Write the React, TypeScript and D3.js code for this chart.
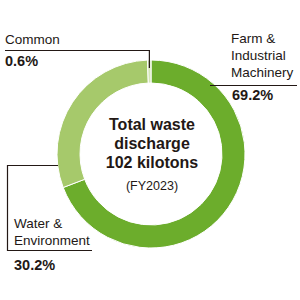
import React from "react";
import * as d3 from "d3";

const categories = ["Farm & Industrial Machinery", "Water & Environment", "Common"];
const values = [69.2, 30.2, 0.6];
const colors = ["#6cad2c", "#a6c96b", "#d4e6b8"];
const centerLines = ["Total waste", "discharge", "102 kilotons"];
const centerSub = "(FY2023)";

export default function App() {
  const W = 300, H = 300;
  const cx = 151, cy = 154, R = 94, r = 71;
  const pie = d3.pie<number>().sort(null).value((d) => d);
  const arcs = pie(values);
  const arc = d3.arc<d3.PieArcDatum<number>>().innerRadius(r).outerRadius(R);
  const txt = "#231815";
  const font = "'Liberation Sans', Arial, sans-serif";
  const cMid = (arcs[2].startAngle + arcs[2].endAngle) / 2;
  const cX = cx + Math.sin(cMid) * (R - 8);
  const cY = cy - Math.cos(cMid) * (R - 8);
  return (
    <svg width={W} height={H} style={{ position: "absolute", left: 0, top: 0 }} fontFamily={font}>
      <g transform={`translate(${cx},${cy})`}>
        {arcs.map((a, i) => (
          <path key={i} d={arc(a) || ""} fill={colors[i]} stroke="#fff" strokeWidth={1} />
        ))}
      </g>
      <polyline points={`5,50.5 ${cX},50.5 ${cX},${cY}`} fill="none" stroke={txt} strokeWidth={1.2} />
      <text x={5} y={44} fontSize={13.5} fill={txt}>Common</text>
      <text x={5} y={66} fontSize={14.5} fontWeight="bold" fill={txt}>0.6%</text>
      <line x1={210} x2={297} y1={85.5} y2={85.5} stroke={txt} strokeWidth={1.2} />
      <text x={231} y={43} fontSize={13.5} fill={txt}>Farm &amp;</text>
      <text x={231} y={60} fontSize={13.5} fill={txt}>Industrial</text>
      <text x={231} y={77} fontSize={13.5} fill={txt}>Machinery</text>
      <text x={232} y={100} fontSize={14.5} fontWeight="bold" fill={txt}>69.2%</text>
      <polyline points={`58,165.5 7.5,165.5 7.5,250.5 92,250.5`} fill="none" stroke={txt} strokeWidth={1.2} />
      <text x={14} y={228} fontSize={13.5} fill={txt}>Water &amp;</text>
      <text x={14} y={245} fontSize={13.5} fill={txt}>Environment</text>
      <text x={14} y={270} fontSize={14.5} fontWeight="bold" fill={txt}>30.2%</text>
      {centerLines.map((t, i) => (
        <text key={i} x={152} y={130 + i * 19} fontSize={16} fontWeight="bold" textAnchor="middle" fill={txt}>{t}</text>
      ))}
      <text x={152} y={190} fontSize={12.5} textAnchor="middle" fill={txt}>{centerSub}</text>
    </svg>
  );
}
